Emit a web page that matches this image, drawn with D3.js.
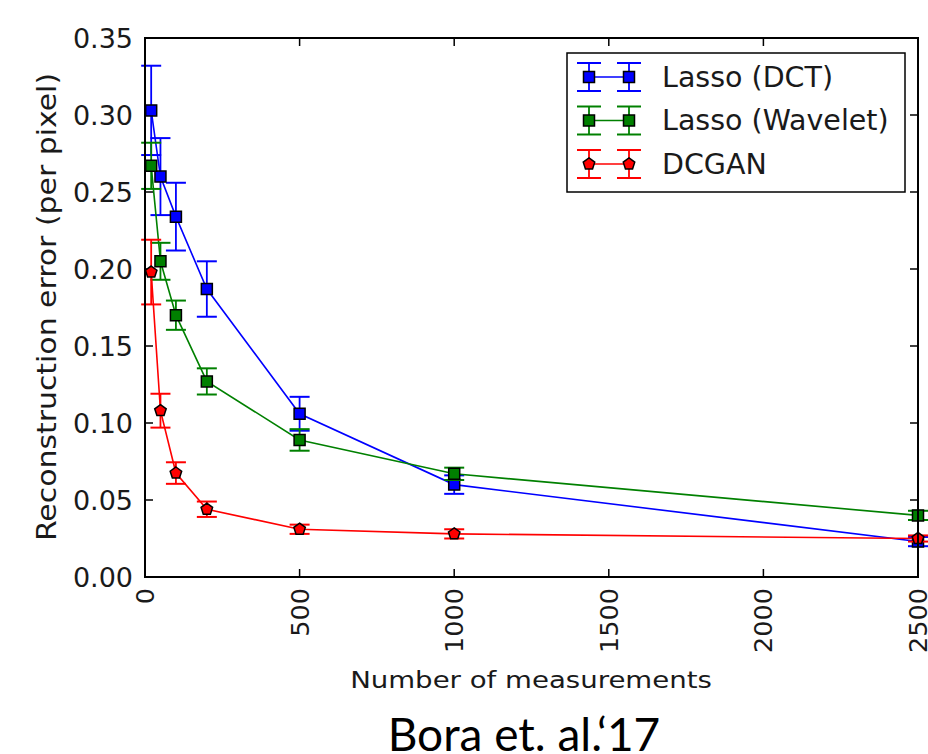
<!DOCTYPE html>
<html><head><meta charset="utf-8">
<script src="https://cdn.jsdelivr.net/npm/d3@7"></script>
<style>body{margin:0;background:#fff}svg{display:block}</style>
</head><body>
<svg id="c" width="928" height="754"></svg>
<script>
// ---- data ----
const measurements = [20, 50, 100, 200, 500, 1000, 2500];
const lassoDCT      = [0.303, 0.260, 0.234, 0.187, 0.106, 0.060, 0.023];
const lassoDCTErr   = [0.029, 0.025, 0.022, 0.018, 0.011, 0.006, 0.003];
const lassoWav      = [0.267, 0.205, 0.170, 0.127, 0.089, 0.067, 0.040];
const lassoWavErr   = [0.015, 0.012, 0.0095, 0.0085, 0.007, 0.004, 0.003];
const dcgan         = [0.198, 0.108, 0.0675, 0.044, 0.031, 0.028, 0.025];
const dcganErr      = [0.021, 0.011, 0.007, 0.005, 0.003, 0.003, 0.002];
const seriesNames   = ["Lasso (DCT)", "Lasso (Wavelet)", "DCGAN"];
const seriesColors  = ["#0000ff", "#008000", "#ff0000"];
const seriesMarkers = ["square", "square", "pentagon"];
const xTicks = [0, 500, 1000, 1500, 2000, 2500];
const yTicks = [0, 0.05, 0.10, 0.15, 0.20, 0.25, 0.30, 0.35];
const xLabel = "Number of measurements";
const yLabel = "Reconstruction error (per pixel)";
const caption = "Bora et. al.\u201817";

const series = [
  {name: seriesNames[0], color: seriesColors[0], marker: seriesMarkers[0], vals: lassoDCT, errs: lassoDCTErr},
  {name: seriesNames[1], color: seriesColors[1], marker: seriesMarkers[1], vals: lassoWav, errs: lassoWavErr},
  {name: seriesNames[2], color: seriesColors[2], marker: seriesMarkers[2], vals: dcgan, errs: dcganErr}
];

const svg = d3.select("#c");
const L = 145, R = 918, T = 38, B = 577;
const x = d3.scaleLinear().domain([0, 2500]).range([L, R]);
const y = d3.scaleLinear().domain([0, 0.35]).range([B, T]);
const font = "'DejaVu Sans', sans-serif";
const tickLen = 8;
const textCol = "#1a1a1a";

// ticks (inside, all four sides)
const g = svg.append("g");
g.selectAll(".xt").data(xTicks).join("g").each(function(d){
  const s = d3.select(this);
  s.append("line").attr("x1", x(d)).attr("x2", x(d)).attr("y1", B).attr("y2", B - tickLen).attr("stroke", "#000").attr("stroke-width", 1.5);
  s.append("line").attr("x1", x(d)).attr("x2", x(d)).attr("y1", T).attr("y2", T + tickLen).attr("stroke", "#000").attr("stroke-width", 1.5);
  s.append("text").attr("transform", `translate(${x(d)},${B + 11}) rotate(-90)`)
    .attr("text-anchor", "end").attr("dominant-baseline", "central")
    .attr("font-family", font).attr("font-size", 25.5).attr("fill", textCol).text(d3.format("d")(d));
});
g.selectAll(".yt").data(yTicks).join("g").each(function(d){
  const s = d3.select(this);
  s.append("line").attr("x1", L).attr("x2", L + tickLen).attr("y1", y(d)).attr("y2", y(d)).attr("stroke", "#000").attr("stroke-width", 1.5);
  s.append("line").attr("x1", R).attr("x2", R - tickLen).attr("y1", y(d)).attr("y2", y(d)).attr("stroke", "#000").attr("stroke-width", 1.5);
  s.append("text").attr("x", L - 12).attr("y", y(d))
    .attr("text-anchor", "end").attr("dominant-baseline", "central")
    .attr("font-family", font).attr("font-size", 27).attr("fill", textCol).text(d3.format(".2f")(d));
});

// marker path
function markerPath(type, size) {
  if (type === "square") {
    const h = size / 2;
    return `M${-h},${-h}L${h},${-h}L${h},${h}L${-h},${h}Z`;
  }
  const r = size / 2 * 1.1;
  const pts = d3.range(5).map(i => {
    const a = -Math.PI / 2 + i * 2 * Math.PI / 5;
    return [r * Math.cos(a), r * Math.sin(a)];
  });
  return "M" + pts.map(p => p.join(",")).join("L") + "Z";
}

const cap = 10;
const plot = svg.append("g");
series.forEach(s => {
  const pts = measurements.map((m, i) => ({m, v: s.vals[i], e: s.errs[i]}));
  const sg = plot.append("g");
  sg.append("path").datum(pts)
    .attr("d", d3.line().x(d => x(d.m)).y(d => y(d.v)))
    .attr("fill", "none").attr("stroke", s.color).attr("stroke-width", 1.6);
  const eb = sg.selectAll(".eb").data(pts).join("g");
  eb.append("line").attr("x1", d => x(d.m)).attr("x2", d => x(d.m))
    .attr("y1", d => y(d.v - d.e)).attr("y2", d => y(d.v + d.e))
    .attr("stroke", s.color).attr("stroke-width", 1.8);
  [-1, 1].forEach(sign => {
    eb.append("line").attr("x1", d => x(d.m) - cap).attr("x2", d => x(d.m) + cap)
      .attr("y1", d => y(d.v + sign * d.e)).attr("y2", d => y(d.v + sign * d.e))
      .attr("stroke", s.color).attr("stroke-width", 2);
  });
  sg.selectAll(".mk").data(pts).join("path")
    .attr("transform", d => `translate(${x(d.m)},${y(d.v)})`)
    .attr("d", markerPath(s.marker, 11))
    .attr("fill", s.color).attr("stroke", "#000").attr("stroke-width", 1.5);
});

// frame
svg.append("rect").attr("x", L).attr("y", T).attr("width", R - L).attr("height", B - T)
  .attr("fill", "none").attr("stroke", "#000").attr("stroke-width", 2);

// legend
const lg = svg.append("g");
lg.append("rect").attr("x", 567).attr("y", 53).attr("width", 338).attr("height", 139)
  .attr("fill", "#fff").attr("stroke", "#000").attr("stroke-width", 1.5);
series.forEach((s, i) => {
  const cy = 77 + i * 43.5;
  const x1 = 589, x2 = 629;
  lg.append("line").attr("x1", x1).attr("x2", x2).attr("y1", cy).attr("y2", cy).attr("stroke", s.color).attr("stroke-width", 1.6);
  [x1, x2].forEach(px => {
    lg.append("line").attr("x1", px).attr("x2", px).attr("y1", cy - 14).attr("y2", cy + 14).attr("stroke", s.color).attr("stroke-width", 1.8);
    [-14, 14].forEach(dy => lg.append("line").attr("x1", px - 12).attr("x2", px + 12).attr("y1", cy + dy).attr("y2", cy + dy).attr("stroke", s.color).attr("stroke-width", 2));
    lg.append("path").attr("transform", `translate(${px},${cy})`).attr("d", markerPath(s.marker, 11))
      .attr("fill", s.color).attr("stroke", "#000").attr("stroke-width", 1.5);
  });
  lg.append("text").attr("x", 662).attr("y", cy).attr("dominant-baseline", "central")
    .attr("font-family", font).attr("font-size", 28.5).attr("fill", textCol).text(s.name);
});

// axis labels (slightly widened glyphs, as in the reference)
svg.append("text").attr("transform", "translate(531,688) scale(1.2,1)").attr("text-anchor", "middle")
  .attr("font-family", font).attr("font-size", 23).attr("fill", textCol).text(xLabel);
svg.append("text").attr("transform", "translate(56,307) rotate(-90) scale(1.15,1)").attr("text-anchor", "middle")
  .attr("font-family", font).attr("font-size", 26).attr("fill", textCol).text(yLabel);
svg.append("text").attr("x", 524).attr("y", 751).attr("text-anchor", "middle")
  .attr("font-family", "Lato, 'Open Sans', sans-serif").attr("font-size", 46).attr("fill", "#000").text(caption);
</script>
</body></html>
